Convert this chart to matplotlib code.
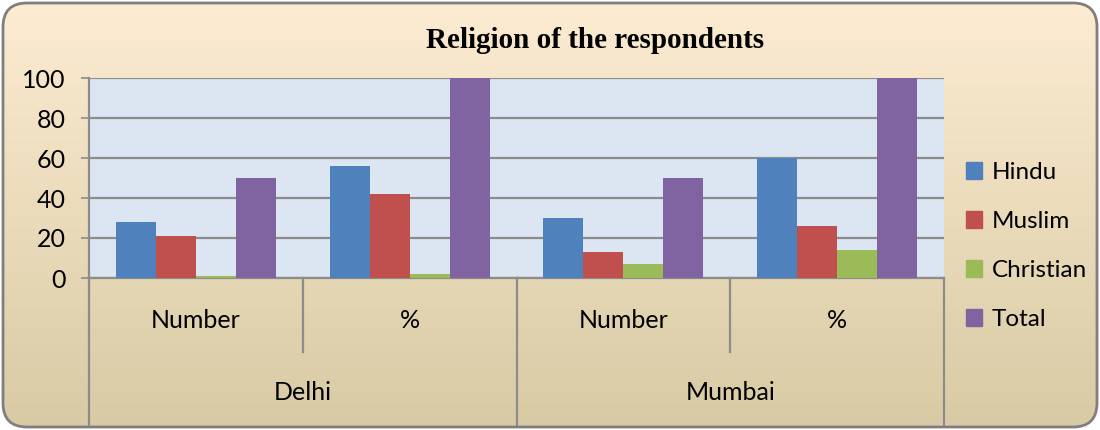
import numpy as np
import matplotlib.pyplot as plt
from matplotlib.patches import FancyBboxPatch, Patch

# data
cities = ["Delhi", "Mumbai"]
measures = ["Number", "%"]
series = ["Hindu", "Muslim", "Christian", "Total"]
hindu = [28, 56, 30, 60]
muslim = [21, 42, 13, 26]
christian = [1, 2, 7, 14]
total = [50, 100, 50, 100]
colors = ["#4f81bd", "#c0504d", "#9bbb59", "#8064a2"]

plt.rcParams['font.family'] = ['Lato', 'DejaVu Sans']

fig = plt.figure(figsize=(11, 4.3), dpi=100)

# gradient background inside a rounded frame
bg = fig.add_axes([0, 0, 1, 1], zorder=-10)
bg.set_xlim(0, 1100)
bg.set_ylim(0, 430)
bg.axis("off")
grad = np.linspace(0, 1, 256).reshape(-1, 1)
top = np.array([253, 236, 210]) / 255
bot = np.array([216, 202, 164]) / 255
img = top + (bot - top) * grad[..., None]
im = bg.imshow(img, extent=[0, 1100, 0, 430], origin="upper", aspect="auto")
frame = FancyBboxPatch((3, 3), 1094, 424, boxstyle="round,pad=0,rounding_size=24",
                       facecolor="none", edgecolor="#7f7f7f", linewidth=2)
bg.add_patch(frame)
im.set_clip_path(frame)

ax = fig.add_axes([89 / 1100, 1 - 278 / 430, (944 - 89) / 1100, 200 / 430])
ax.set_facecolor("#dce6f2")

x = np.arange(len(hindu))
w = 0.187
data = [hindu, muslim, christian, total]
for i, (name, vals) in enumerate(zip(series, data)):
    ax.bar(x + (i - 1.5) * w, vals, w, color=colors[i], label=name, zorder=3)

ax.set_xlim(-0.5, 3.5)
ax.set_ylim(0, 100)
ax.set_yticks(range(0, 101, 20))
ax.yaxis.grid(True, color="#8c8c8c", linewidth=1.6, zorder=1)
ax.tick_params(axis="y", length=6, width=1.2, color="#8c8c8c", labelsize=18, pad=11)
ax.set_xticks([])
for s in ["top", "right"]:
    ax.spines[s].set_visible(False)
for s in ["left", "bottom"]:
    ax.spines[s].set_color("#8c8c8c")
    ax.spines[s].set_linewidth(1.6)

# multi level category axis
tr = ax.get_xaxis_transform()
for b in [0.5, 2.5]:
    ax.plot([b, b], [0, -0.37], transform=tr, color="#8c8c8c", lw=1.6, clip_on=False)
for b in [-0.5, 1.5, 3.5]:
    ax.plot([b, b], [0, -0.735], transform=tr, color="#8c8c8c", lw=1.6, clip_on=False)
for j in range(len(hindu)):
    ax.text(j, -0.215, measures[j % 2], transform=tr, ha="center", va="center", fontsize=18)
for k, c in enumerate(cities):
    ax.text(2 * k + 0.5, -0.575, c, transform=tr, ha="center", va="center", fontsize=18)

fig.text(595 / 1100, 1 - 40 / 430, "Religion of the respondents", ha="center", va="center",
         fontsize=21, fontweight="bold", family="Liberation Serif")

handles = [Patch(color=c) for c in colors]
fig.legend(handles, series, loc="center left", bbox_to_anchor=(944 / 1100, 1 - 246 / 430),
           frameon=False, fontsize=17.5, handlelength=0.65, handleheight=0.65,
           handletextpad=0.4, labelspacing=1.15)

fig.savefig("out.png", dpi=100)
